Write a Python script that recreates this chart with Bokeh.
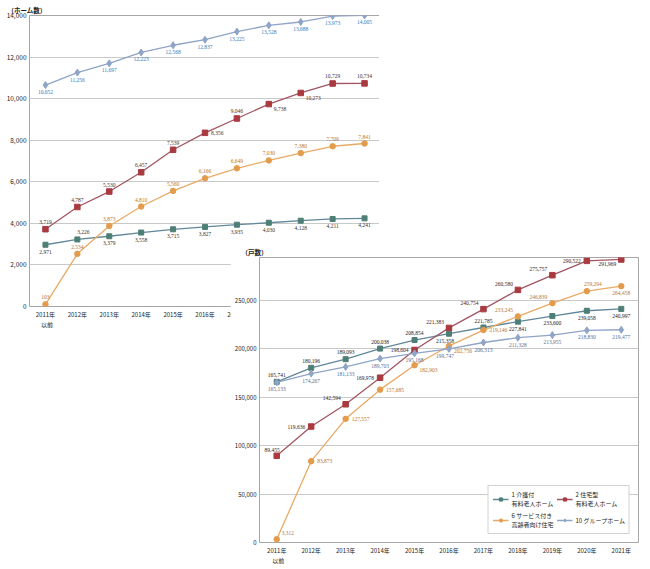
from bokeh.plotting import figure
from bokeh.models import (FactorRange, Range1d, FixedTicker, NumeralTickFormatter,
                          ColumnDataSource, Legend, LegendItem, LabelSet)
from bokeh.layouts import column
from bokeh.embed import file_html
from bokeh.resources import INLINE

FONT = "Noto Sans CJK JP"

years = ["2011年\n\u2002以前", "2012年", "2013年", "2014年", "2015年", "2016年",
         "2017年", "2018年", "2019年", "2020年", "2021年"]

series_names = ["1 介護付\n有料老人ホーム", "2 住宅型\n有料老人ホーム",
                "6 サービス付き\n高齢者向け住宅", "10 グループホーム"]

# top chart: number of homes
homes_kaigo = [2971, 3226, 3379, 3558, 3715, 3827, 3935, 4030, 4128, 4211, 4241]
homes_jutaku = [3719, 4787, 5530, 6457, 7539, 8356, 9046, 9738, 10273, 10729, 10734]
homes_sakoju = [103, 2534, 3873, 4810, 5560, 6166, 6649, 7030, 7380, 7709, 7841]
homes_group = [10652, 11256, 11697, 12223, 12568, 12837, 13225, 13528, 13688, 13973, 14005]

# bottom chart: number of units
units_kaigo = [165741, 180196, 189093, 200038, 208854, 215358, 221785, 227841, 233600, 239058, 240997]
units_jutaku = [89455, 119636, 142594, 169978, 198604, 221383, 240754, 260580, 275757, 290522, 291969]
units_sakoju = [3312, 83873, 127557, 157685, 182903, 202756, 219146, 233245, 246839, 259294, 264458]
units_group = [165133, 174267, 181133, 189703, 195168, 199747, 206313, 211328, 213955, 218830, 219477]

# label placement codes (style only)
top_pos_kaigo = ["b", "ar", "b", "b", "b", "b", "b", "b", "b", "b", "b"]
top_pos_jutaku = ["a", "a", "a", "a", "a", "r", "a", "rb", "rb", "a", "a"]
top_pos_sakoju = ["a"] * 11
top_pos_group = ["b"] * 11

bot_pos_kaigo = ["a", "a", "a", "a", "a", "bl", "a", "b", "b", "b", "b"]
bot_pos_jutaku = ["lae", "l", "la", "l", "l", "la", "la", "la", "la", "l", "lb"]
bot_pos_sakoju = ["ra", "r", "r", "r", "rb", "rb", "r", "la", "la", "ar", "b"]
bot_pos_group = ["b", "b", "b", "b", "b", "bl", "b", "b", "b", "b", "b"]

C_TEAL = "#4E7F76"
C_TEAL_LINE = "#62879A"
C_RED = "#A83A40"
C_RED_LINE = "#A25562"
C_ORANGE = "#E39B4C"
C_ORANGE_LINE = "#E9AA66"
C_GROUP = "#8FA4C7"

# (dx, dy-up, align, baseline)
OFFS = {
    "a": (0, 5, "center", "bottom"),
    "b": (0, -5, "center", "top"),
    "l": (-6, 0, "right", "middle"),
    "r": (6, 0, "left", "middle"),
    "la": (-5, 4, "right", "bottom"),
    "lae": (3, 4, "right", "bottom"),
    "lb": (-5, -3, "right", "top"),
    "ra": (5, 4, "left", "bottom"),
    "rb": (5, -3, "left", "top"),
    "bl": (-4, -5, "center", "top"),
    "ar": (6, 5, "center", "bottom"),
}


def add_series(p, vals, pos, marker, mcolor, lcolor, msize, tcolor, tsize):
    src = ColumnDataSource(dict(
        x=years, y=vals, t=[f"{v:,}" for v in vals],
        dx=[OFFS[k][0] for k in pos], dy=[OFFS[k][1] for k in pos],
        al=[OFFS[k][2] for k in pos], bl=[OFFS[k][3] for k in pos]))
    ln = p.line("x", "y", source=src, line_color=lcolor, line_width=1.3)
    mk = p.scatter("x", "y", source=src, marker=marker, size=msize,
                   fill_color=mcolor, line_color=mcolor)
    labels = LabelSet(x="x", y="y", text="t", source=src,
                      x_offset="dx", y_offset="dy",
                      text_align="al", text_baseline="bl",
                      text_font=FONT, text_font_size=tsize, text_color=tcolor)
    p.add_layout(labels)
    return [ln, mk]


def style(p, tick_size):
    p.outline_line_color = "#A6A6A6"
    p.outline_line_width = 1
    p.xgrid.grid_line_color = None
    p.ygrid.grid_line_color = "#C9C9C9"
    p.ygrid.grid_line_width = 1
    for ax in (p.xaxis[0], p.yaxis[0]):
        ax.axis_line_color = None
        ax.major_tick_line_color = None
        ax.minor_tick_line_color = None
        ax.major_tick_out = 0
        ax.major_tick_in = 0
        ax.minor_tick_out = 0
        ax.minor_tick_in = 0
        ax.major_label_text_font = FONT
        ax.major_label_text_color = "#222222"
        ax.major_label_standoff = 3
    p.yaxis[0].major_label_text_font_size = tick_size
    p.xaxis[0].major_label_text_font_size = "6px"
    p.xaxis[0].major_label_text_line_height = 1.2
    p.xaxis[0].major_label_standoff = 3
    p.title.text_font = FONT
    p.title.text_font_size = "6.5px"
    p.title.text_font_style = "bold"
    p.title.text_color = "#222222"
    p.title.standoff = 1


# ---------------- top figure ----------------
p1 = figure(frame_width=351, frame_height=291, x_range=FactorRange(*years),
            y_range=Range1d(0, 14000), output_backend="svg",
            toolbar_location=None, title="（ホーム数）",
            min_border_left=24, min_border_right=2, min_border_top=15,
            min_border_bottom=20)
p1.yaxis[0].ticker = FixedTicker(ticks=list(range(0, 14001, 2000)))
p1.yaxis[0].formatter = NumeralTickFormatter(format="0,0")
style(p1, "6.5px")
p1.title.offset = -22

add_series(p1, homes_kaigo, top_pos_kaigo, "square", C_TEAL, C_TEAL_LINE, 5, "#333333", "5.5px")
add_series(p1, homes_jutaku, top_pos_jutaku, "square", C_RED, C_RED_LINE, 5.5, "#4A3030", "5.5px")
add_series(p1, homes_sakoju, top_pos_sakoju, "circle", C_ORANGE, C_ORANGE_LINE, 5.5, "#B8752F", "5.5px")
add_series(p1, homes_group, top_pos_group, "diamond", C_GROUP, C_GROUP, 7, "#2F7DC0", "5.5px")

# ---------------- bottom figure ----------------
p2 = figure(frame_width=379, frame_height=285, x_range=FactorRange(*years),
            y_range=Range1d(0, 294000), output_backend="svg",
            toolbar_location=None, title="（戸数）",
            min_border_left=29, min_border_right=2, min_border_top=12,
            min_border_bottom=19,
            margin=(-88, 0, 0, 230),
            background_fill_color="white", border_fill_color="white",
            styles={"position": "relative", "z-index": "2"})
p2.yaxis[0].ticker = FixedTicker(ticks=list(range(0, 300001, 50000)))
p2.yaxis[0].formatter = NumeralTickFormatter(format="0,0")
style(p2, "6px")
p2.title.offset = -18

r_k = add_series(p2, units_kaigo, bot_pos_kaigo, "square", C_TEAL, C_TEAL_LINE, 5, "#222222", "5.5px")
r_j = add_series(p2, units_jutaku, bot_pos_jutaku, "square", C_RED, C_RED_LINE, 5.5, "#3A2020", "5.5px")
r_s = add_series(p2, units_sakoju, bot_pos_sakoju, "circle", C_ORANGE, C_ORANGE_LINE, 5.5, "#B8752F", "5.5px")
r_g = add_series(p2, units_group, bot_pos_group, "diamond", C_GROUP, C_GROUP, 7, "#5A6E90", "5.5px")

legend = Legend(items=[LegendItem(label=series_names[0], renderers=r_k),
                       LegendItem(label=series_names[1], renderers=r_j),
                       LegendItem(label=series_names[2], renderers=r_s),
                       LegendItem(label=series_names[3], renderers=r_g)],
                location="bottom_right", orientation="horizontal", nrows=2,
                label_text_font=FONT, label_text_font_size="6px",
                label_text_color="#222222", glyph_width=16, glyph_height=8,
                label_standoff=3, spacing=3, padding=4, margin=8,
                border_line_color="#A6A6A6", border_line_width=1,
                background_fill_alpha=1, label_height=14)
p2.add_layout(legend)

layout = column(p1, p2, spacing=0)
open("out.html", "w").write(file_html(layout, INLINE))
